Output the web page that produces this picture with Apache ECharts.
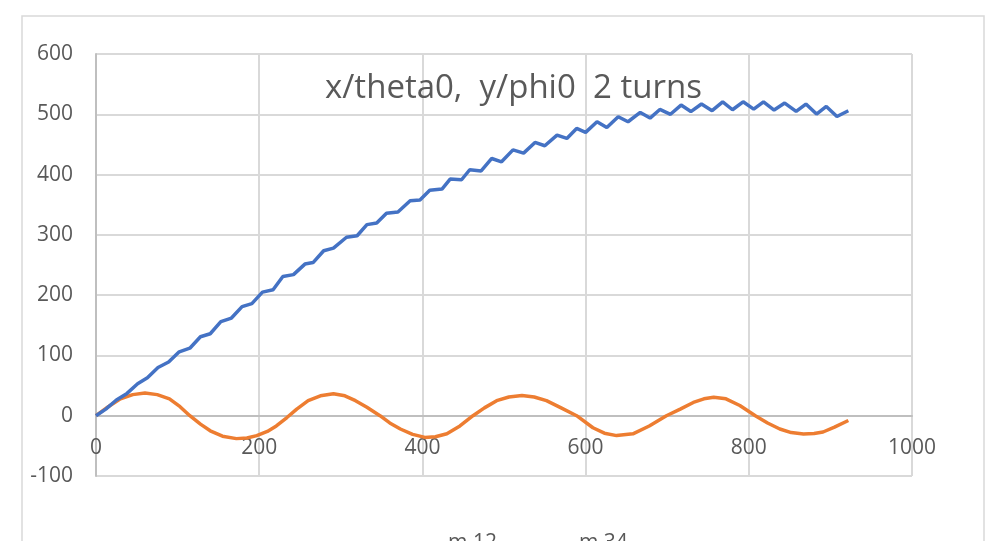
<!DOCTYPE html>
<html>
<head>
<meta charset="utf-8">
<script src="https://cdn.jsdelivr.net/npm/echarts@6/dist/echarts.min.js"></script>
<style>
html,body{margin:0;padding:0;background:#fff;}
#chart{width:992px;height:541px;}
</style>
</head>
<body>
<div id="chart"></div>
<script>
var titleText = 'x/theta0,  y/phi0  2 turns';
var seriesNames = ['m 12', 'm 34'];
var xTicks = [0, 200, 400, 600, 800, 1000];
var yTicks = [-100, 0, 100, 200, 300, 400, 500, 600];

var blueX = [0,12,25,38,51,63,76,89,102,115,128,140,153,166,179,191,204,217,229,242,256,266,279,291,307,320,332,344,356,370,385,397,409,424,434,448,458,472,485,497,511,524,538,550,565,577,589,600,614,626,640,652,667,679,691,704,717,729,742,755,768,780,793,806,818,831,844,858,870,883,895,908,922];
var blueY = [0,11,26,37,53,63,80,89,106,112,131,136,156,162,181,186,205,209,231,234,251.5,254,273.6,278,296,298.5,317,319.5,336,338,356.5,358,374,376,392.5,391.4,408,406,426.7,421.2,441,435.6,453.3,447.8,465.5,460,476.5,470,487.6,478,496,487.6,503,493.7,508,500,515.3,504.5,517,506,520.7,507.5,520.7,508.6,520.7,507,518.6,504.7,517,500.3,513,496.4,505.8];

var orangeX = [0,15,30,45,60,75,90,103,115,128,140,155,172,185,197,210,221,234,246,260,275,291,305,318,332,348,360,373,388,403,416,430,446,462,476,491,506,522,537,552,570,589,609,623,638,658,678,699,716,732,745,757,772,789,808,823,838,852,867,880,891,905,922];
var orangeY = [0,15,28,35,37.6,35,28,15,0,-14,-25,-34,-38,-37,-33,-26,-17,-3,11,25,33,36.5,33,25,14,0,-12,-22,-31,-36,-35,-30,-17,0,13,25,31,33.5,31,25,13,0,-20,-29,-33,-30,-17,0,11,22,28,30.5,28,17,0,-12,-22,-28,-30.5,-29.5,-27,-19,-8];

function pairs(xs, ys){ return xs.map(function(x,i){ return [x, ys[i]]; }); }

var gridTop = 54, gridBottom = 65, chartH = 541;
var plotH = chartH - gridTop - gridBottom;
var yMin = yTicks[0], yMax = yTicks[yTicks.length-1];
// x-axis crosses the value axis at y = 0 (as in the original): offset from the bottom edge
var zeroOffset = -plotH * (0 - yMin) / (yMax - yMin);

var chart = echarts.init(document.getElementById('chart'), null, {renderer:'canvas'});
var labelFont = '"Open Sans", "DejaVu Sans", sans-serif';
chart.setOption({
  animation: false,
  backgroundColor: '#ffffff',
  graphic: [{
    type: 'rect',
    shape: {x: 22, y: 16, width: 962, height: 600},
    style: {fill: 'none', stroke: '#d9d9d9', lineWidth: 1.5},
    z: -10
  }, {
    type: 'text',
    x: 325,
    y: 89,
    style: {text: titleText, font: '33px ' + labelFont, fill: '#595959', verticalAlign: 'middle', align: 'left'},
    z: 10
  }],
  grid: {left: 96, right: 80, top: gridTop, bottom: gridBottom, containLabel: false},
  legend: {
    data: seriesNames,
    left: 413,
    top: 533,
    padding: 0,
    itemWidth: 30,
    itemHeight: 3,
    itemGap: 47,
    icon: 'rect',
    textStyle: {fontFamily: labelFont, fontSize: 21, color: '#595959'}
  },
  xAxis: {
    type: 'value',
    position: 'bottom',
    offset: zeroOffset,
    min: xTicks[0],
    max: xTicks[xTicks.length-1],
    interval: 200,
    axisLine: {show: true, onZero: false, lineStyle: {color: '#bfbfbf', width: 2}},
    axisTick: {show: false},
    axisLabel: {fontFamily: labelFont, fontSize: 21, color: '#595959', margin: 22,
      formatter: function(v){ return String(v); }},
    splitLine: {show: true, lineStyle: {color: '#d9d9d9', width: 2}}
  },
  yAxis: {
    type: 'value',
    min: yMin,
    max: yMax,
    interval: 100,
    axisLine: {show: true, onZero: false, lineStyle: {color: '#bfbfbf', width: 2}},
    axisTick: {show: false},
    axisLabel: {fontFamily: labelFont, fontSize: 21, color: '#595959', margin: 23,
      formatter: function(v){ return String(v); }},
    splitLine: {show: true, lineStyle: {color: '#d9d9d9', width: 2}}
  },
  series: [{
    name: seriesNames[0],
    type: 'line',
    data: pairs(blueX, blueY),
    showSymbol: false,
    symbol: 'none',
    lineStyle: {color: '#4472C4', width: 3.5},
    itemStyle: {color: '#4472C4'},
    z: 3
  }, {
    name: seriesNames[1],
    type: 'line',
    data: pairs(orangeX, orangeY),
    showSymbol: false,
    symbol: 'none',
    lineStyle: {color: '#ED7D31', width: 3.5},
    itemStyle: {color: '#ED7D31'},
    z: 2
  }]
});
</script>
</body>
</html>
